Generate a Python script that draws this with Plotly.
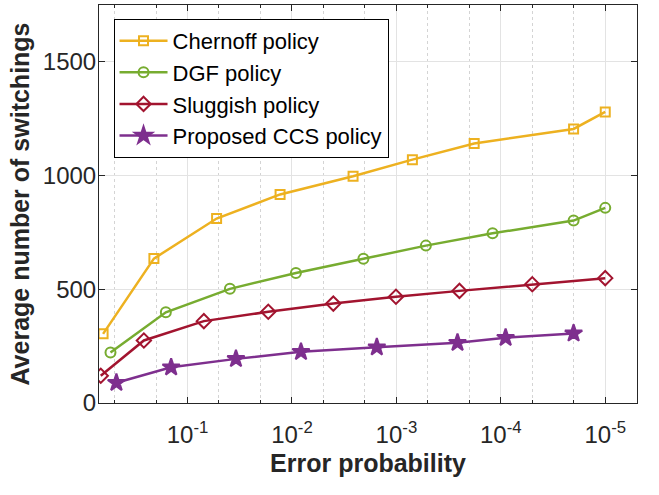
import plotly.graph_objects as go

# Error probability (x) and average number of switchings (y)
chernoff_p = [0.644, 0.210, 0.0527, 0.0130, 0.0026, 7.03e-4, 1.80e-4, 2.01e-5, 1.0e-5]
chernoff_y = [304, 635, 811, 917, 997, 1070, 1141, 1205, 1280]

dgf_p = [0.547, 0.1614, 0.0393, 0.00917, 0.00207, 5.22e-4, 1.20e-4, 2.01e-5, 1.0e-5]
dgf_y = [222, 399, 502, 572, 634, 692, 746, 802, 858]

sluggish_p = [0.678, 0.262, 0.0698, 0.01687, 0.00402, 1.01e-3, 2.49e-4, 5.0e-5, 1.0e-5]
sluggish_y = [120, 275, 360, 401, 437, 467, 493, 522, 549]

ccs_p = [0.480, 0.1436, 0.0344, 0.0082, 0.00154, 2.60e-4, 9.0e-5, 2.01e-5]
ccs_y = [89, 157, 194, 225, 245, 265, 287, 306]

x_tickvals = [1e-1, 1e-2, 1e-3, 1e-4, 1e-5]
x_ticktext = ["10<sup>-1</sup>", "10<sup>-2</sup>", "10<sup>-3</sup>", "10<sup>-4</sup>", "10<sup>-5</sup>"]
y_tickvals = [0, 500, 1000, 1500]

series = [
    ("Chernoff policy", chernoff_p, chernoff_y, "#EDB120", "square-open", 9),
    ("DGF policy", dgf_p, dgf_y, "#77AC30", "circle-open", 10),
    ("Sluggish policy", sluggish_p, sluggish_y, "#A2142F", "diamond-open", 11),
    ("Proposed CCS policy", ccs_p, ccs_y, "#7E2F8E", "star", 13),
]

fig = go.Figure()
for name, xs, ys, color, sym, size in series:
    fig.add_trace(go.Scatter(
        x=xs, y=ys, name=name, mode="lines+markers",
        line=dict(color=color, width=2.5),
        marker=dict(symbol=sym, size=size, color=color,
                    line=dict(color=color, width=2)),
    ))

font_family = "Liberation Sans, Arial, sans-serif"
axis_color = "#262626"

fig.update_layout(
    width=659, height=495,
    margin=dict(l=99, r=22, t=5, b=92),
    paper_bgcolor="white", plot_bgcolor="white",
    font=dict(family=font_family, size=24, color=axis_color),
    showlegend=True,
    legend=dict(
        x=0.027, y=0.965, xanchor="left", yanchor="top",
        bgcolor="white", bordercolor="black", borderwidth=1,
        font=dict(size=22, color="black"),
        itemwidth=48, tracegroupgap=0,
    ),
    xaxis=dict(
        type="log", range=[-0.152, -5.304],
        tickvals=x_tickvals, ticktext=x_ticktext,
        showline=True, linecolor=axis_color, linewidth=1, mirror="ticks",
        ticks="inside", ticklen=6, tickcolor=axis_color,
        showgrid=True, gridcolor="#e3e3e3", gridwidth=1,
        minor=dict(ticks="inside", ticklen=3, tickcolor=axis_color,
                   showgrid=True, gridcolor="#d4d4d4", griddash="dot", gridwidth=1),
        zeroline=False,
        ticklabelstandoff=10,
        title=dict(text="<b>Error probability</b>", font=dict(size=25, color=axis_color), standoff=7),
        tickfont=dict(size=24, color=axis_color),
    ),
    yaxis=dict(
        range=[0, 1750],
        tickvals=y_tickvals,
        showline=True, linecolor=axis_color, linewidth=1, mirror="ticks",
        ticks="inside", ticklen=6, tickcolor=axis_color,
        showgrid=True, gridcolor="#e3e3e3", gridwidth=1,
        zeroline=False,
        ticklabelstandoff=-3,
        title=dict(text="<b>Average number of switchings</b>", font=dict(size=25, color=axis_color), standoff=6),
        tickfont=dict(size=24, color=axis_color),
    ),
)

fig.write_html("out.html")
